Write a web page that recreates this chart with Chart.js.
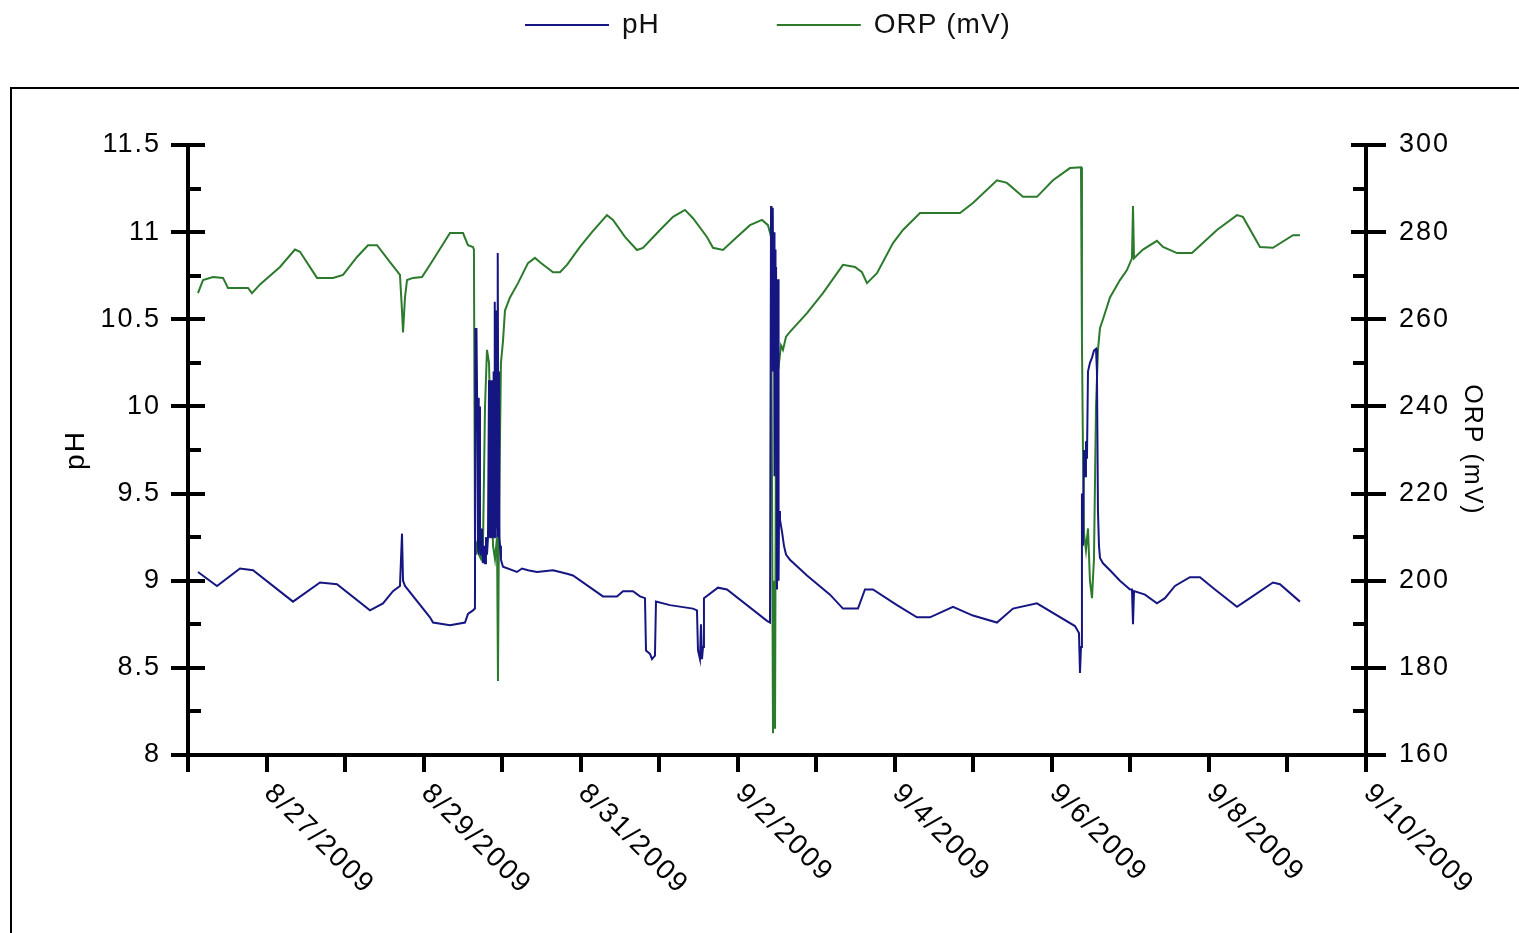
<!DOCTYPE html>
<html><head><meta charset="utf-8">
<script src="https://cdn.jsdelivr.net/npm/chart.js@4.4.1/dist/chart.umd.min.js"></script>
<style>html,body{margin:0;padding:0;background:#fff;overflow:hidden}#wrap{width:1519px;height:933px;position:relative}</style>
</head><body><div id="wrap"><canvas id="c" width="1519" height="933"></canvas></div>
<script>
// x values are days elapsed since 8/26/2009 00:00
const xTickDays = [1, 3, 5, 7, 9, 11, 13, 15];
const xTickLabels = ['8/27/2009','8/29/2009','8/31/2009','9/2/2009','9/4/2009','9/6/2009','9/8/2009','9/10/2009'];
const seriesLabels = ['pH', 'ORP (mV)'];

const phDays = [0.127,0.369,0.662,0.828,1.337,1.681,1.897,2.317,2.483,2.610,2.699,2.725,2.738,2.763,3.081,3.120,3.336,3.527,3.565,3.629,3.654,
  3.660,3.667,3.673,3.680,3.693,3.699,3.705,3.712,3.718,3.731,3.743,3.756,3.769,3.782,3.794,3.807,3.820,3.833,3.836,3.839,3.842,3.845,3.849,3.852,3.855,3.858,3.861,3.865,3.868,3.871,3.874,3.877,3.881,3.884,3.887,3.890,3.893,3.896,3.900,3.903,3.906,3.909,3.916,3.922,3.928,3.935,3.941,3.947,3.954,3.960,3.966,3.973,3.985,4.011,
  4.189,4.253,4.329,4.444,4.648,4.737,4.826,4.902,5.284,5.462,5.539,5.666,5.755,5.819,5.832,5.883,5.908,5.946,5.959,6.137,6.430,6.481,6.494,6.519,6.532,6.545,6.558,6.570,6.748,6.863,
  7.373,7.411,7.424,7.430,7.437,7.443,7.449,7.456,7.462,7.468,7.475,7.481,7.488,7.500,7.513,7.520,7.526,7.538,7.564,7.589,7.615,7.665,7.882,
  8.175,8.340,8.531,8.620,8.722,9.028,9.282,9.448,9.741,9.995,10.301,10.505,10.810,11.294,11.345,11.358,11.371,11.383,11.396,11.409,11.422,11.434,11.447,11.460,11.485,11.511,11.536,11.562,11.574,11.587,11.600,11.613,11.651,11.740,11.867,11.995,12.020,12.033,12.046,12.186,12.338,12.440,12.567,12.758,12.886,13.077,13.357,13.522,13.815,13.904,14.159];
const phValues = [9.05,8.97,9.07,9.06,8.88,8.99,8.98,8.83,8.87,8.94,8.97,9.27,9.00,8.97,8.79,8.76,8.745,8.76,8.81,8.83,8.84,
  10.45,10.10,10.45,10.12,9.20,10.05,9.15,10.00,9.25,9.15,9.30,9.10,9.20,9.10,9.25,9.15,9.25,10.15,9.25,10.15,9.25,10.15,9.25,10.15,9.25,10.15,9.25,10.15,9.25,10.15,9.25,10.15,9.25,10.15,9.25,10.20,9.25,10.20,9.25,10.20,9.25,10.60,9.25,10.55,9.30,10.50,9.25,10.88,9.30,10.20,9.25,9.20,9.12,9.08,
  9.05,9.07,9.06,9.05,9.06,9.05,9.04,9.03,8.91,8.91,8.94,8.94,8.91,8.90,8.60,8.58,8.55,8.57,8.88,8.86,8.84,8.83,8.60,8.55,8.75,8.55,8.62,8.90,8.96,8.95,
  8.77,8.76,11.15,10.25,11.10,10.20,11.14,10.30,11.00,9.60,10.90,10.20,10.80,8.95,10.73,9.00,9.40,9.35,9.28,9.20,9.15,9.12,9.03,
  8.92,8.84,8.84,8.95,8.95,8.86,8.79,8.79,8.85,8.80,8.76,8.84,8.87,8.74,8.70,8.47,8.62,9.50,9.20,9.75,9.60,9.80,9.70,10.20,10.25,10.28,10.32,10.33,10.20,9.40,9.20,9.13,9.10,9.06,9.00,8.95,8.95,8.75,8.94,8.92,8.87,8.90,8.97,9.02,9.02,8.95,8.85,8.90,8.99,8.98,8.88];

const orpDays = [0.127,0.191,0.318,0.446,0.509,0.764,0.815,0.917,1.171,1.362,1.426,1.643,1.846,1.974,2.152,2.292,2.407,2.572,2.699,2.725,2.738,2.763,2.789,2.865,2.980,3.120,3.336,3.502,3.565,3.629,3.641,3.654,3.667,3.680,3.705,3.731,3.756,3.782,3.807,3.833,3.858,3.884,3.909,3.935,3.947,3.960,3.985,4.011,4.036,4.100,4.202,4.329,4.418,4.482,4.648,4.737,4.826,4.991,5.144,5.335,5.412,5.564,5.717,5.793,6.010,6.176,6.328,6.430,6.608,6.685,6.812,6.990,7.156,7.309,7.385,7.424,7.449,7.462,7.475,7.488,7.500,7.526,7.551,7.576,7.615,7.665,7.882,8.085,8.340,8.493,8.582,8.646,8.773,8.977,9.104,9.321,9.830,9.995,10.301,10.428,10.632,10.810,11.014,11.230,11.371,11.383,11.396,11.409,11.434,11.460,11.485,11.511,11.536,11.562,11.587,11.613,11.651,11.740,11.867,11.956,12.020,12.033,12.046,12.160,12.338,12.415,12.593,12.784,13.102,13.357,13.433,13.650,13.815,14.070,14.159];
const orpValues = [266,269,269.7,269.5,267.2,267.2,266,268,272,276,275.5,269.5,269.5,270.2,274.3,277,277,273.1,270.2,262,257,265,269,269.5,269.7,273.6,279.8,279.8,277,276.6,276,210,206,208,206,205,208,240,253,250,230,208,205,210,177,215,250,255,262,265,268.3,272.9,274.1,273.1,270.8,270.8,272.5,276.6,280,283.9,282.8,278.9,275.9,276.4,280.5,283.5,285.1,283.2,278.9,276.4,275.9,278.9,281.6,282.8,281.6,279,165,200,166,245,253,250,254,253,256,257.1,261.4,266,272.5,272,270.8,268.3,270.6,277.5,280.5,284.4,284.4,286.7,291.9,291.3,288.1,288.1,291.9,294.7,294.9,255,230,211,207,212,200,196,205,240,253,258,260,265,269,271.3,274,286,274,276,278,276.6,275.2,275.2,280.5,283.9,283.5,276.6,276.4,279.3,279.3];

const FONT = '"Liberation Sans", Arial, sans-serif';
Chart.defaults.font.family = FONT;
Chart.defaults.color = '#000';

const toPts = (xs, ys) => xs.map((x, i) => ({x: x, y: ys[i]}));

const framePlugin = {
  id: 'frame',
  beforeDraw(chart) {
    const ctx = chart.ctx;
    ctx.save();
    ctx.strokeStyle = '#000';
    ctx.lineWidth = 2;
    ctx.strokeRect(11, 88, 1700, 1000);
    ctx.restore();
    ctx.letterSpacing = '2px';
  },
  beforeDatasetsDraw(chart) {
    chart.ctx.letterSpacing = '0px';
  }
};

const decoPlugin = {
  id: 'deco',
  afterDraw(chart) {
    const ctx = chart.ctx;
    const xs = chart.scales.x, ys = chart.scales.y, y1 = chart.scales.y1;
    ctx.save();
    ctx.fillStyle = '#000';
    ys.ticks.forEach(t => {
      const py = Math.round(ys.getPixelForValue(t.value));
      const major = Math.abs(t.value * 2 - Math.round(t.value * 2)) < 1e-6;
      if (major) ctx.fillRect(ys.right - 17, py - 2, 34, 4);
      else ctx.fillRect(ys.right, py - 2, 13, 4);
    });
    y1.ticks.forEach(t => {
      const py = Math.round(y1.getPixelForValue(t.value));
      const major = Math.round(t.value) % 20 === 0;
      if (major) ctx.fillRect(y1.left - 15, py - 2, 35, 4);
      else ctx.fillRect(y1.left - 13, py - 2, 13, 4);
    });
    xs.ticks.forEach(t => {
      const px = Math.round(xs.getPixelForValue(t.value));
      ctx.fillRect(px - 2, xs.top, 4, 17);
    });
    ctx.font = '28px ' + FONT;
    ctx.letterSpacing = '2px';
    ctx.textAlign = 'left';
    ctx.textBaseline = 'middle';
    xTickDays.forEach((d, i) => {
      const px = xs.getPixelForValue(d);
      ctx.save();
      ctx.translate(px + 2, xs.top + 34);
      ctx.rotate(45 * Math.PI / 180);
      ctx.fillText(xTickLabels[i], 0, 0);
      ctx.restore();
    });
    ctx.letterSpacing = '1px';
    let lx = 525;
    const ly = 25;
    chart.data.datasets.forEach(ds => {
      ctx.strokeStyle = ds.borderColor;
      ctx.lineWidth = 2;
      ctx.beginPath(); ctx.moveTo(lx, ly); ctx.lineTo(lx + 84, ly); ctx.stroke();
      ctx.fillStyle = '#111';
      ctx.fillText(ds.label, lx + 97, ly);
      lx += 97 + ctx.measureText(ds.label).width + 117;
    });
    ctx.restore();
    ctx.letterSpacing = '0px';
  }
};

new Chart(document.getElementById('c'), {
  type: 'line',
  data: {
    datasets: [
      { label: seriesLabels[0], data: toPts(phDays, phValues), yAxisID: 'y',
        borderColor: '#161682', borderWidth: 2, pointRadius: 0, tension: 0, fill: false },
      { label: seriesLabels[1], data: toPts(orpDays, orpValues), yAxisID: 'y1',
        borderColor: '#2c7a2c', borderWidth: 2, pointRadius: 0, tension: 0, fill: false }
    ]
  },
  options: {
    responsive: false,
    animation: false,
    devicePixelRatio: 1,
    layout: { padding: { top: 145, left: 0, right: 0, bottom: 0 } },
    plugins: { legend: { display: false }, tooltip: { enabled: false } },
    scales: {
      x: {
        type: 'linear', min: 0, max: 15,
        ticks: { stepSize: 1, display: false, autoSkip: false },
        grid: { display: false, drawTicks: false },
        border: { display: true, color: '#000', width: 4 },
        afterFit(s) { s.height = 178; }
      },
      y: {
        type: 'linear', position: 'left', min: 8, max: 11.5,
        ticks: { stepSize: 0.25, autoSkip: false, padding: 27, font: { size: 27 },
          callback: v => (Math.abs(v * 2 - Math.round(v * 2)) < 1e-6 ? String(+v.toFixed(1)) : '') },
        grid: { display: false, drawTicks: false },
        border: { display: true, color: '#000', width: 4 },
        title: { display: true, text: seriesLabels[0], font: { size: 28 }, padding: { top: 59, bottom: 0 } },
        afterFit(s) { s.width = 188; }
      },
      y1: {
        type: 'linear', position: 'right', min: 160, max: 300,
        ticks: { stepSize: 10, autoSkip: false, padding: 33, font: { size: 27 },
          callback: v => (Math.round(v) % 20 === 0 ? String(v) : '') },
        grid: { display: false, drawTicks: false },
        border: { display: true, color: '#000', width: 4 },
        title: { display: true, text: seriesLabels[1], font: { size: 25 }, padding: { top: 32, bottom: 0 } },
        afterFit(s) { s.width = 153; }
      }
    }
  },
  plugins: [framePlugin, decoPlugin]
});
</script>
</body></html>
